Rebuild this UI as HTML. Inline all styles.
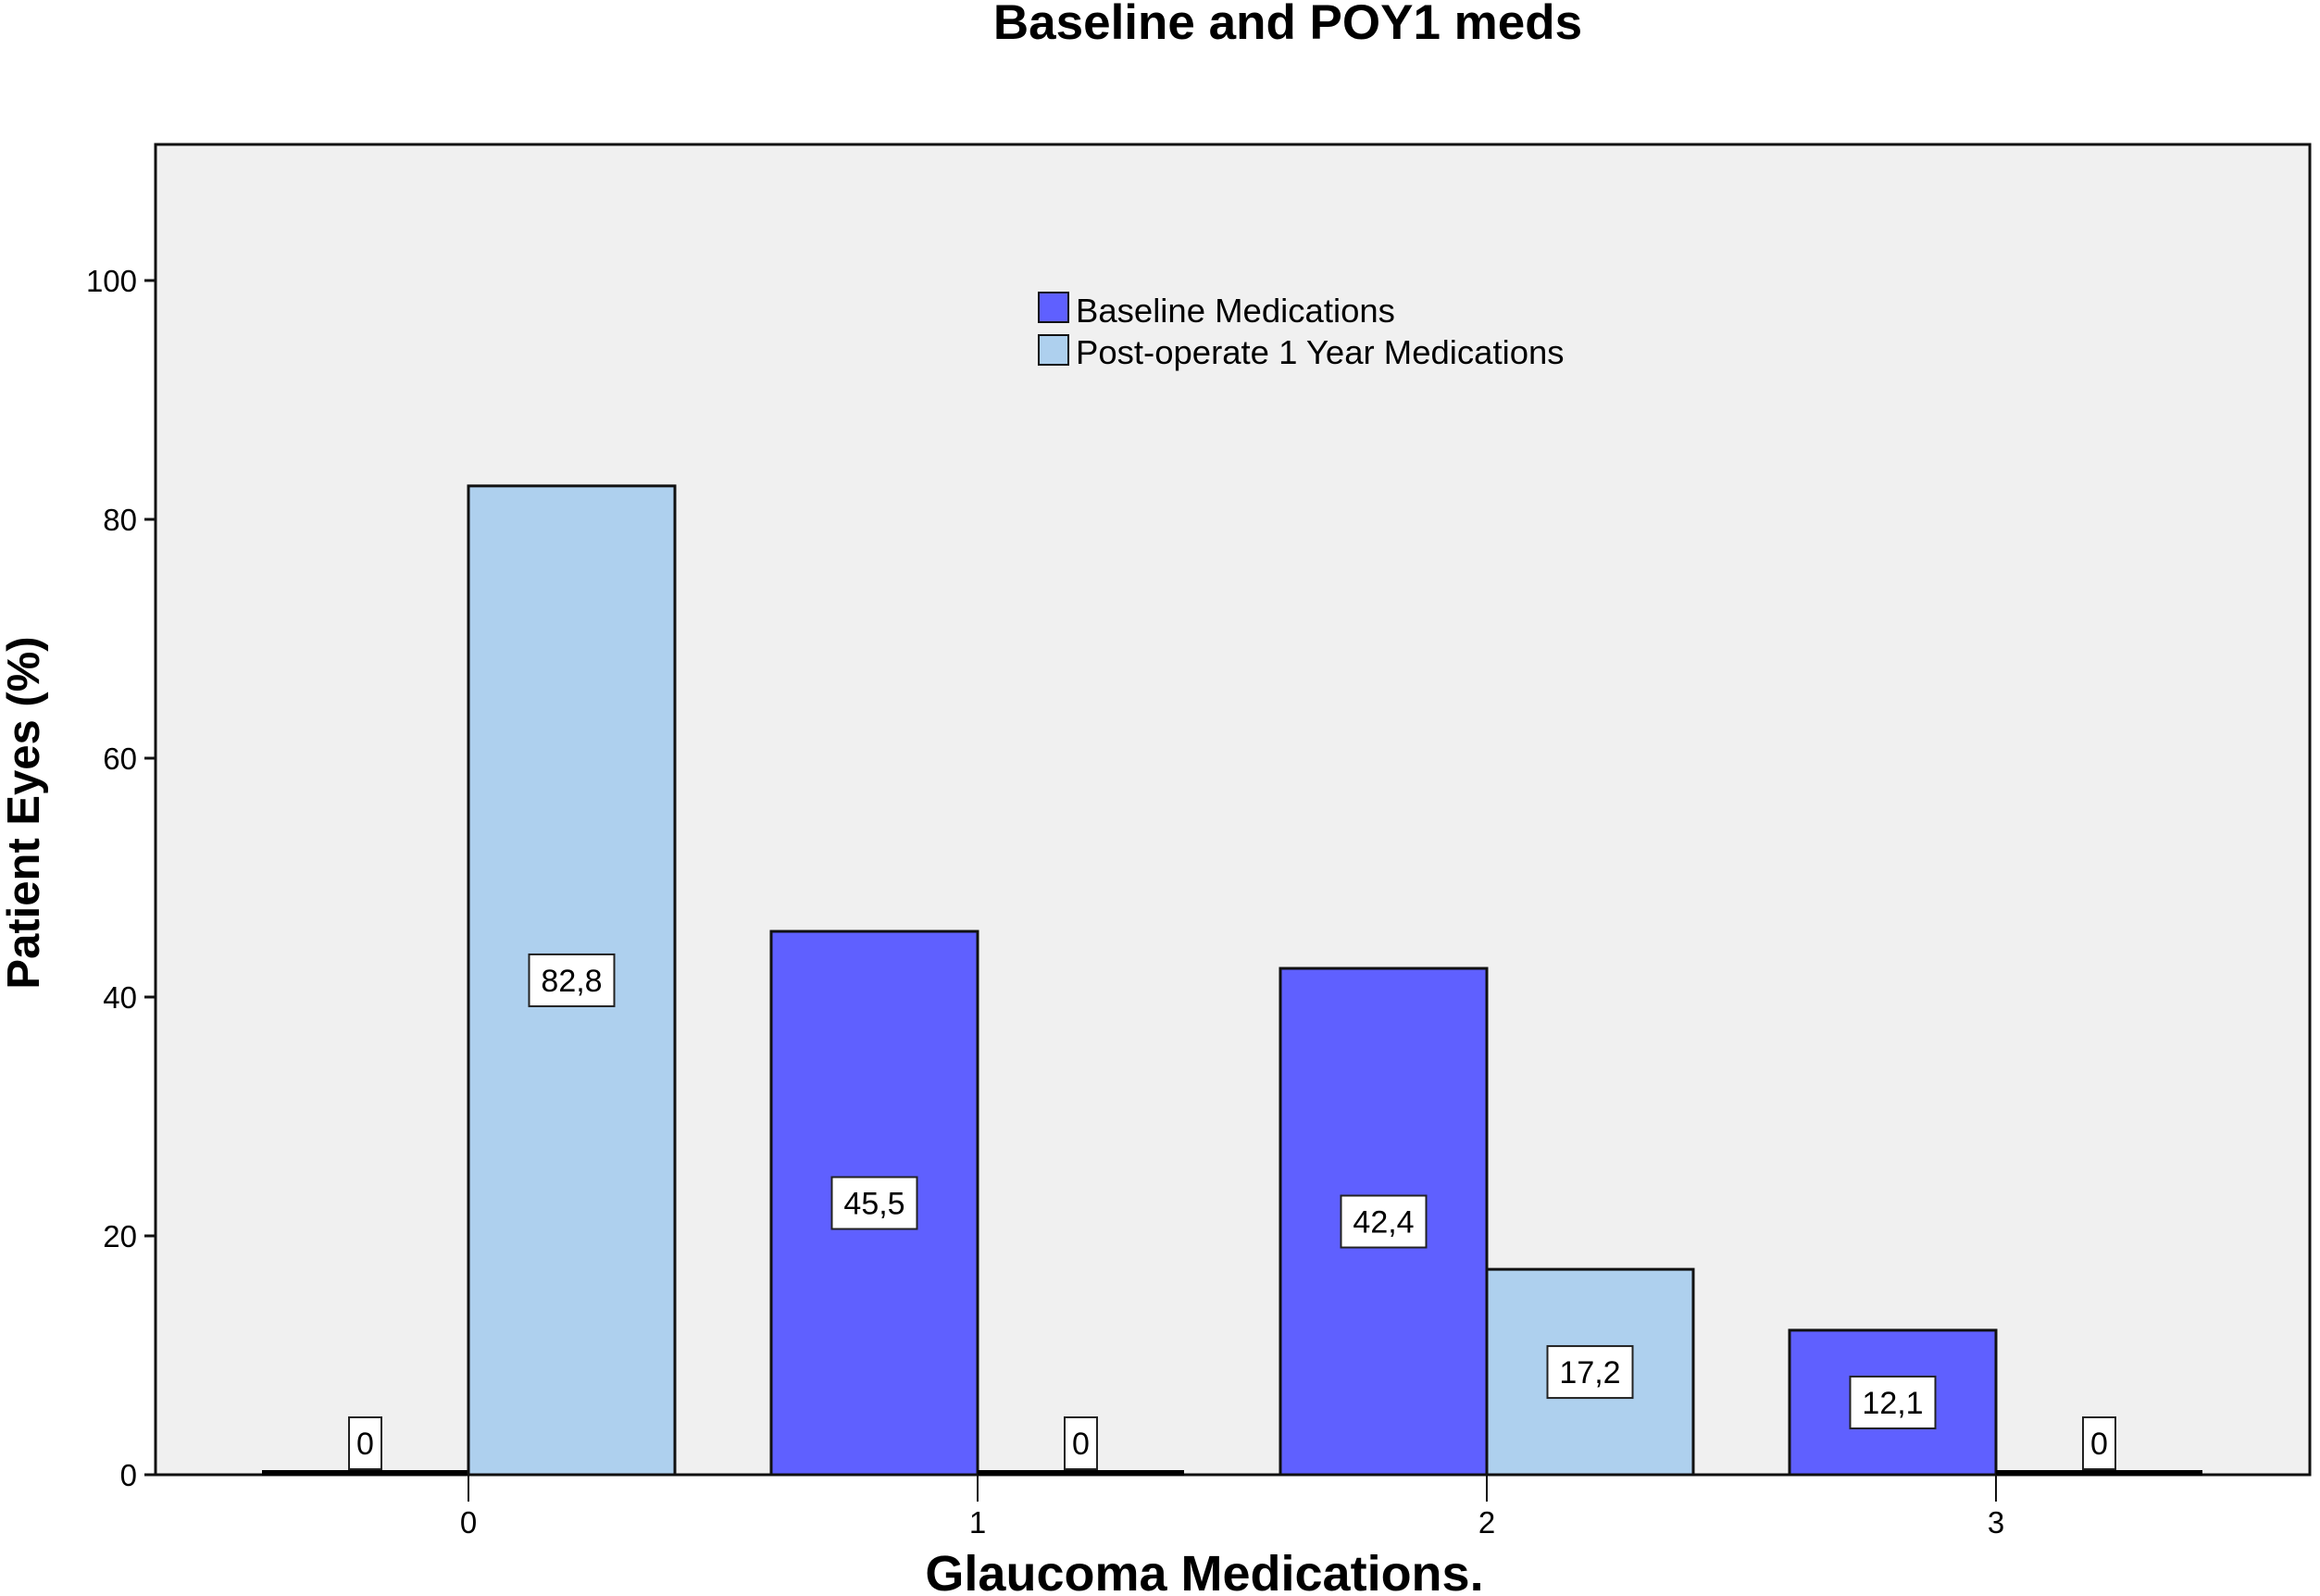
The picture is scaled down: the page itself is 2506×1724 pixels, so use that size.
<!DOCTYPE html>
<html><head><meta charset="utf-8"><style>
html,body{margin:0;padding:0;background:#fff;}
svg{display:block;font-family:"Liberation Sans",Arial,sans-serif;}
</style></head><body>
<svg id="chart" width="2506" height="1724" viewBox="0 0 2506 1724">
<text x="1391" y="42" text-anchor="middle" font-size="53" font-weight="bold">Baseline and POY1 meds</text>
<rect x="168" y="156" width="2327" height="1437" fill="#f0f0f0" stroke="#111" stroke-width="3"/>
<g id="bars"></g>
<g id="yaxis"></g>
<g id="xaxis"></g>
<text x="1301" y="1718" text-anchor="middle" font-size="54" font-weight="bold">Glaucoma Medications.</text>
<text transform="translate(42,878) rotate(-90)" text-anchor="middle" font-size="49" font-weight="bold">Patient Eyes (%)</text>
<g>
<rect x="1122" y="316" width="32" height="32" fill="#5f60ff" stroke="#111" stroke-width="2"/>
<text x="1162" y="348" font-size="36.5">Baseline Medications</text>
<rect x="1122" y="362" width="32" height="32" fill="#aed0ee" stroke="#111" stroke-width="2"/>
<text x="1162" y="393" font-size="36.5">Post-operate 1 Year Medications</text>
</g>
</svg>
<script>
const categories = ["0","1","2","3"];
const baselineValues = [0, 45.5, 42.4, 12.1];
const postValues = [82.8, 0, 17.2, 0];
const baselineLabels = ["0","45,5","42,4","12,1"];
const postLabels = ["82,8","0","17,2","0"];
const yTicks = [0,20,40,60,80,100];

const NS = "http://www.w3.org/2000/svg";
const y0 = 1593, yPer = (1593-303)/100;
const x0 = 506, xStep = 550, bw = 223;
function ys(v){ return y0 - v*yPer; }
function xs(i){ return x0 + i*xStep; }
function mk(tag, attrs, parent){ const e=document.createElementNS(NS,tag); for(const k in attrs) e.setAttribute(k,attrs[k]); parent.appendChild(e); return e; }

const bars = document.getElementById('bars');
function drawBar(i, v, label, left, color, nm){
  const x = left ? xs(i)-bw : xs(i);
  if (v > 0) {
    const r = mk('rect',{x:x,y:ys(v),width:bw,height:y0-ys(v),fill:color,stroke:'#111','stroke-width':3},bars);
    
    
  } else {
    const l = mk('line',{x1:x,x2:x+bw,y1:y0-2,y2:y0-2,stroke:'#000','stroke-width':6},bars);
    
    
  }
  const cx = x + bw/2;
  const w = label.length*19 + 16, h = 56;
  const cy = v > 0 ? ys(v/2) : y0 - 34;
  const g = mk('g',{},bars);
  
  
  mk('rect',{x:cx-w/2,y:cy-h/2,width:w,height:h,fill:'#fff',stroke:'#222','stroke-width':2},g);
  const t = mk('text',{x:cx,y:cy+12,'text-anchor':'middle','font-size':34},g);
  t.textContent = label;
}
categories.forEach((c,i)=>{
  drawBar(i, baselineValues[i], baselineLabels[i], true, '#5f60ff', 'baseline');
  drawBar(i, postValues[i], postLabels[i], false, '#aed0ee', 'post');
});

const ya = document.getElementById('yaxis');
yTicks.forEach(v=>{
  const tk = mk('line',{x1:156,x2:168,y1:ys(v),y2:ys(v),stroke:'#111','stroke-width':3},ya);
  
  
  const t = mk('text',{x:148,y:ys(v)+12,'text-anchor':'end','font-size':33},ya);
  
  
  t.textContent = v;
});
const xa = document.getElementById('xaxis');
categories.forEach((c,i)=>{
  const tk = mk('line',{x1:xs(i),x2:xs(i),y1:1593,y2:1622,stroke:'#111','stroke-width':2},xa);
  
  
  const t = mk('text',{x:xs(i),y:1656,'text-anchor':'middle','font-size':33},xa);
  
  
  t.textContent = c;
});
</script>
</body></html>
